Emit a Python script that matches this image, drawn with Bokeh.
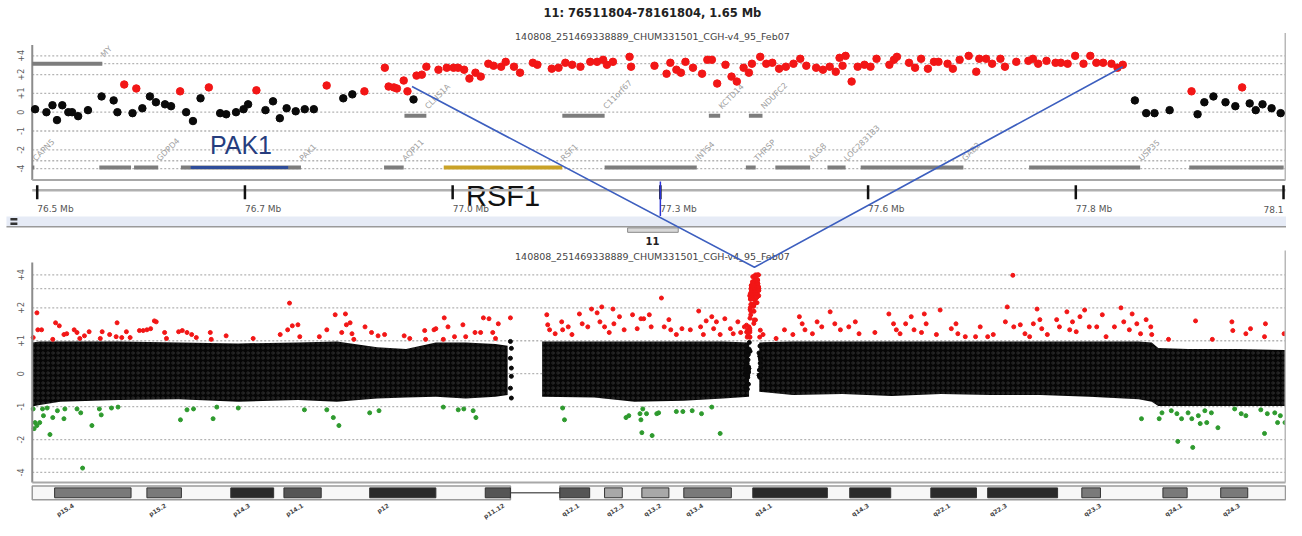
import math
from bokeh.plotting import figure
from bokeh.models import Range1d, ColumnDataSource
from bokeh.embed import file_html
from bokeh.resources import INLINE
from bokeh.core.properties import value

# ======================= DATA =======================
CHROM = "11"
REGION_START = 76511804 / 1e6
REGION_END = 78161804 / 1e6
CHR_LEN = 134.452384
ARRAY_NAME = "140808_251469338889_CHUM331501_CGH-v4_95_Feb07"

# probes inside the zoomed region (position Mb, log ratio)
zoom_pos = [76.509, 76.524, 76.532, 76.538, 76.545, 76.553, 76.558, 76.566, 76.579, 76.597,
            76.613, 76.618, 76.627, 76.638, 76.643, 76.651, 76.661, 76.669, 76.681, 76.689,
            76.701, 76.709, 76.718, 76.728, 76.739, 76.754, 76.762, 76.775, 76.785, 76.791,
            76.802, 76.814, 76.824, 76.833, 76.842, 76.854, 76.866, 76.878, 76.895, 76.917,
            76.929, 76.945, 76.972, 76.977, 76.984, 76.988, 76.997, 77.002, 77.010, 77.014,
            77.021, 77.027, 77.043, 77.054, 77.063, 77.069, 77.077, 77.084, 77.092, 77.099,
            77.109, 77.116, 77.126, 77.132, 77.143, 77.151, 77.168, 77.174, 77.193, 77.202,
            77.211, 77.220, 77.231, 77.244, 77.253, 77.261, 77.266, 77.274, 77.296, 77.298,
            77.329, 77.345, 77.350, 77.358, 77.364, 77.370, 77.380, 77.392, 77.399, 77.405,
            77.412, 77.423, 77.431, 77.438, 77.447, 77.454, 77.458, 77.469, 77.477, 77.485,
            77.494, 77.503, 77.513, 77.522, 77.530, 77.543, 77.552, 77.561, 77.569, 77.574,
            77.578, 77.582, 77.590, 77.598, 77.607, 77.615, 77.623, 77.640, 77.646, 77.650,
            77.666, 77.674, 77.682, 77.691, 77.699, 77.705, 77.717, 77.724, 77.733, 77.745,
            77.755, 77.759, 77.768, 77.776, 77.787, 77.793, 77.808, 77.824, 77.830, 77.837,
            77.848, 77.860, 77.867, 77.876, 77.886, 77.897, 77.906, 77.914, 77.923, 77.934,
            77.942, 77.949, 77.965, 77.980, 77.991, 78.011, 78.040, 78.048, 78.057, 78.069,
            78.085, 78.098, 78.107, 78.117, 78.125, 78.134, 78.146, 78.158]
zoom_lr = [0.16, 0.00, 0.37, -0.42, 0.37, 0.00, 0.00, -0.21, 0.11, 0.84,
           0.63, 0.00, 1.39, -0.05, 1.20, 0.21, 0.84, 0.53, 0.42, 0.32,
           1.08, 0.00, -0.47, 0.74, 1.25, -0.05, -0.11, 0.00, 0.16, 0.42,
           1.12, 0.11, 0.58, -0.32, 0.21, 0.05, 0.16, 0.16, 1.34, 0.74,
           0.95, 1.08, 2.58, 1.29, 1.25, 1.20, 1.61, 1.08, 0.68, 1.93,
           2.00, 2.68, 2.40, 2.58, 2.58, 2.58, 2.40, 1.73, 2.15, 1.86,
           2.99, 2.78, 2.68, 3.21, 2.68, 2.15, 3.10, 2.88, 2.49, 2.58,
           3.10, 2.88, 2.68, 3.21, 3.21, 3.46, 2.88, 3.21, 3.86, 2.68,
           2.78, 2.07, 3.10, 2.40, 2.15, 3.21, 2.58, 2.07, 3.46, 3.46,
           1.44, 2.88, 1.86, 1.55, 2.58, 2.15, 2.99, 3.86, 2.99, 3.10,
           2.49, 2.68, 2.99, 3.59, 2.78, 2.58, 2.40, 2.68, 2.23, 3.72,
           2.78, 4.00, 1.55, 2.68, 2.88, 2.68, 3.59, 2.88, 3.46, 3.86,
           3.10, 2.58, 3.59, 2.49, 3.21, 3.21, 2.99, 2.49, 3.46, 4.00,
           2.23, 3.59, 3.59, 2.99, 3.59, 2.68, 3.21, 3.33, 3.59, 2.99,
           3.33, 3.10, 3.10, 2.99, 4.00, 2.99, 4.00, 3.10, 3.10, 2.99,
           2.58, 2.88, 0.63, -0.05, -0.05, 0.11, 1.08, -0.11, 0.53, 0.84,
           0.53, 0.32, 1.25, 0.47, 0.11, 0.42, 0.21, -0.05]

# amplicon bounds (Mb) used for the zoom call-out
AMP_START, AMP_END = 77.008, 77.949

# whole chromosome: gained probes (> +1) and lost probes (< -1)
chr_red_pos = [0.1, 0.5, 0.6, 1.0, 2.2, 2.5, 2.9, 3.4, 3.7, 4.5, 4.8, 5.1, 5.6, 6.1, 7.3, 7.5, 8.3, 9.0,
               9.1, 9.6, 10.1, 10.5, 11.5, 11.9, 12.3, 12.7, 13.1, 13.3, 14.2, 14.4, 15.7, 16.1, 16.6,
               17.1, 17.6, 19.1, 19.2, 20.8, 23.7, 26.6, 27.4, 27.6, 27.9, 28.5, 28.7, 30.8, 31.6, 32.5,
               33.2, 33.6, 33.7, 34.1, 34.3, 34.5, 35.7, 36.4, 37.1, 37.8, 39.9, 40.5, 42.1, 42.2, 43.1,
               43.3, 44.1, 44.2, 44.6, 45.3, 46.2, 46.5, 47.5, 48.1, 48.4, 49.0, 49.4, 49.7, 50.0, 51.3,
               55.2, 55.3, 55.5, 56.1, 56.8, 56.9, 57.5, 57.9, 58.7, 59.0, 59.6, 60.0, 60.6, 60.9, 61.1,
               61.4, 61.9, 62.3, 62.4, 63.0, 63.5, 64.4, 64.9, 65.3, 65.6, 66.2, 66.4, 67.5, 67.8, 68.3,
               68.5, 69.1, 69.7, 70.6, 71.5, 71.7, 72.0, 72.3, 72.9, 73.1, 73.4, 73.8, 74.3, 74.9, 75.2,
               75.7, 76.0, 76.4,
               78.4, 79.8, 80.7, 81.6, 82.3, 82.6, 82.9, 83.7, 84.2, 84.7, 85.6, 86.1, 86.7, 87.6, 88.3,
               88.7, 90.4, 91.9, 92.4, 92.7, 93.1, 93.7, 94.3, 94.6, 95.4, 95.7, 95.9, 97.0, 97.4, 98.6,
               99.1, 99.3, 100.1, 101.2, 101.7, 102.5, 103.1, 104.4, 104.6, 105.2, 105.3, 106.0, 106.5,
               107.0, 107.4, 107.8, 108.1, 108.3, 108.9, 109.9, 110.2, 111.0, 111.3, 111.6, 112.0, 112.4,
               112.9, 113.4, 114.2, 114.8, 115.2, 116.1, 116.8, 117.1, 117.7, 118.0, 118.5, 118.9, 119.5,
               120.0, 120.1, 121.9, 124.8, 126.6, 128.7, 128.8, 130.2, 130.7, 132.2, 132.3, 134.3]
chr_red_lr = [1.07, 1.80, 1.26, 1.26, 1.03, 1.46, 1.37, 1.14, 1.16, 1.26, 1.19, 1.05, 1.11, 1.21, 1.05, 1.21,
              1.14, 1.09, 1.46, 1.07, 1.21, 1.07, 1.24, 1.24, 1.26, 1.29, 1.52, 1.49, 1.19, 1.05, 1.21, 1.24,
              1.19, 1.14, 1.07, 1.19, 1.03, 1.11, 1.05, 1.14, 1.26, 2.21, 1.37, 1.40, 1.09, 1.09, 1.26, 1.73,
              1.19, 1.76, 1.40, 1.46, 1.16, 1.03, 1.34, 1.19, 1.11, 1.14, 1.11, 1.05, 1.24, 1.03, 1.26, 1.29,
              1.03, 1.62, 1.34, 1.09, 1.40, 1.09, 1.19, 1.19, 1.62, 1.59, 1.19, 1.05, 1.43, 1.62,
              1.73, 1.40, 1.26, 1.16, 1.49, 1.26, 1.34, 1.14, 1.76, 1.43, 1.34, 1.95, 1.80, 1.49, 2.04, 1.34,
              1.19, 1.95, 1.43, 1.66, 1.26, 1.73, 1.29, 1.59, 1.59, 1.73, 1.34, 2.46, 1.34, 1.56, 1.26, 1.14,
              1.29, 1.26, 1.87, 1.34, 1.14, 1.52, 1.66, 1.29, 1.49, 1.14, 1.59, 1.29, 1.16, 1.49, 1.19, 1.34,
              1.14, 1.05, 1.26, 1.14, 1.66, 1.43, 1.26, 1.16, 1.49, 1.34, 1.84, 1.43, 1.26, 1.34, 1.49, 1.16,
              1.19, 1.76, 1.43, 1.26, 1.16, 1.43, 1.66, 1.26, 1.19, 1.76, 1.43, 1.14, 1.91, 1.29, 1.43, 1.16,
              1.09, 1.09, 1.34, 1.09, 1.14, 1.49, 2.04, 3.97, 1.34, 1.40, 1.16, 1.09, 1.43, 1.95, 1.56, 1.29,
              1.14, 1.56, 1.34, 1.84, 1.26, 1.49, 1.21, 1.66, 1.91, 1.34, 1.34, 1.73, 1.09, 1.34, 2.00, 1.49,
              1.26, 1.76, 1.43, 1.16, 1.56, 1.34, 1.14, 1.03, 1.52, 1.03, 1.49, 1.24, 1.16, 1.29, 1.09, 1.43,
              1.16]
chr_green_pos = [0.1, 0.2, 0.3, 0.5, 0.8, 1.1, 1.2, 1.6, 1.9, 2.2, 2.7, 3.4, 3.5, 4.8, 5.2, 5.4, 6.4, 7.2,
                 7.4, 8.5, 9.2, 15.9, 16.6, 17.3, 19.4, 19.8, 22.1, 29.2, 31.6, 32.3, 32.9, 36.2, 37.2,
                 44.1, 45.7, 46.3, 47.3, 47.6, 56.9, 57.1, 63.7, 64.0, 65.2, 65.3, 65.4, 65.5, 65.9, 66.5,
                 67.0, 67.2, 69.1, 69.8, 70.8, 71.8, 72.9, 73.8, 119.0, 120.9, 121.2, 122.2, 122.8, 122.9,
                 123.3, 124.0, 124.4, 124.5, 125.1, 125.3, 125.8, 126.0, 126.5, 127.2, 129.0, 129.7, 130.2,
                 131.8, 132.2, 132.5, 133.3, 133.6, 133.9, 134.4]
chr_green_lr = [-1.05, -1.59, -1.40, -1.49, -1.40, -1.05, -1.21, -1.03, -1.80, -1.26, -1.09, -1.29, -1.05,
                -1.05, -1.14, -3.65, -1.49, -1.05, -1.19, -1.03, -1.01, -1.32, -1.07, -1.05, -1.29, -1.01,
                -1.03, -1.07, -1.07, -1.26, -1.49, -1.14, -1.09, -1.01, -1.07, -1.05, -1.09, -1.26, -1.03,
                -1.32, -1.26, -1.21, -1.16, -1.32, -1.73, -1.05, -1.16, -1.84, -1.16, -1.14, -1.11, -1.11,
                -1.09, -1.16, -1.01, -1.76, -1.29, -1.29, -1.14, -1.09, -1.16, -2.08, -1.29, -1.14, -1.29,
                -2.36, -1.21, -1.43, -1.09, -1.40, -1.14, -1.56, -1.05, -1.16, -1.21, -1.07, -1.76, -1.16,
                -1.14, -1.40, -1.21, -1.40]
# isolated pericentromeric probes
chr_black_pos = [51.3, 51.4, 51.3, 51.4, 51.4, 51.3, 51.4]
chr_black_lr = [0.98, 0.77, 0.47, 0.17, -0.08, -0.44, -0.74]

# envelope of the dense unchanged-probe cloud (segment id, Mb, upper, lower log ratio)
cloud_seg = [0] * 14 + [1] * 6 + [2] * 14
cloud_pos = [0.0, 0.8, 3.0, 9.3, 15.7, 22.1, 28.5, 32.7, 37.0, 40.1, 43.3, 46.5, 49.7, 51.0,
             54.7, 60.3, 64.6, 69.9, 74.1, 76.9,
             78.0, 81.6, 86.9, 92.2, 97.5, 102.8, 108.1, 113.4, 118.7, 120.1, 120.8, 124.0, 129.3, 134.4]
cloud_hi = [0.95, 0.98, 0.98, 0.98, 0.95, 0.92, 0.95, 0.98, 0.80, 0.75, 0.95, 0.95, 0.90, 0.85,
            0.98, 0.98, 0.98, 0.98, 0.98, 0.95,
            0.95, 0.98, 0.98, 0.98, 0.98, 0.98, 0.98, 0.98, 0.98, 0.95, 0.78, 0.75, 0.75, 0.72]
cloud_lo = [-1.0, -0.95, -0.85, -0.80, -0.78, -0.85, -0.80, -0.85, -0.75, -0.72, -0.70, -0.75, -0.70, -0.65,
            -0.70, -0.72, -0.85, -0.82, -0.75, -0.70,
            -0.55, -0.65, -0.62, -0.68, -0.62, -0.65, -0.65, -0.70, -0.78, -0.85, -0.98, -0.98, -0.98, -0.98]

# genes in the zoomed region
gene_name = ["MYO7A", "CAPN5", "OMP", "GDPD4", "PAK1", "AQP11", "CLNS1A", "RSF1", "C11orf67", "INTS4",
             "KCTD14", "THRSP", "NDUFC2", "ALG8", "LOC283183", "GAB2", "USP35", "KCTD21"]
gene_label = ["MY", "CAPN5", "", "GDPD4", "PAK1", "AQP11", "CLNS1A", "RSF1", "C11orf67", "INTS4",
              "KCTD14", "THRSP", "NDUFC2", "ALG8", "LOC283183", "GAB2", "USP35", ""]
gene_start = [76.505, 76.505, 76.594, 76.640, 76.702, 76.971, 76.998, 77.050, 77.207, 77.263,
              77.401, 77.450, 77.454, 77.489, 77.558, 77.602, 77.825, 78.037]
gene_end = [76.598, 76.508, 76.636, 76.672, 76.861, 76.997, 77.027, 77.207, 77.263, 77.385,
            77.416, 77.463, 77.472, 77.535, 77.582, 77.738, 77.972, 78.162]
gene_row = [0, 2, 2, 2, 2, 2, 1, 2, 1, 2, 1, 2, 1, 2, 2, 2, 2, 2]
PAK1_EXONS = (76.715, 76.844)
callout_genes = ["PAK1", "RSF1"]

# chromosome 11 ideogram (stained bands)
band_name = ["p15.4", "p15.2", "p14.3", "p14.1", "p12", "p11.12", "q12.1", "q12.3", "q13.2", "q13.4",
             "q14.1", "q14.3", "q22.1", "q22.3", "q23.3", "q24.1", "q24.3"]
band_start = [2.4, 12.3, 21.3, 27.0, 36.2, 48.6, 56.6, 61.4, 65.4, 69.9, 77.3, 87.7, 96.4, 102.5,
              112.6, 121.3, 127.5]
band_end = [10.6, 16.0, 25.9, 31.0, 43.3, 51.3, 59.8, 63.3, 68.3, 75.0, 85.3, 92.1, 101.3, 110.0,
            114.6, 123.9, 130.4]
band_stain = ["gpos50", "gpos50", "gpos100", "gpos75", "gpos100", "gpos75", "gpos75", "gpos25", "gpos25",
              "gpos50", "gpos100", "gpos100", "gpos100", "gpos100", "gpos50", "gpos50", "gpos50"]
CEN_START, CEN_END = 51.3, 56.6

y_ticks = [4, 2, 1, 0, -1, -2, -4]
y_tick_labels = ["+4", "+2", "+1", "0", "-1", "-2", "-4"]
y_grid = [4, 3, 2, 1, 0, -1, -2, -3, -4]
ruler_labels = ["76.5 Mb", "76.7 Mb", "77.0 Mb", "77.3 Mb", "77.6 Mb", "77.8 Mb", "78.1"]

# ======================= STYLE / LAYOUT =======================
W, H = 1286, 520                  # canvas size in screen pixels
FL, FR, FT, FB = 0, 1296, 0, 526  # layout units spanned by the canvas
RED, GREEN, BLACK = "#f21616", "#2e9a2e", "#0a0a0a"
GRID = "#b4b4b4"
AXIS = "#8c8c8c"
STAIN = {"gpos25": "#a8a8a8", "gpos50": "#7a7a7a", "gpos75": "#555555", "gpos100": "#2a2a2a"}
FONT = value("DejaVu Sans")
SANS = value("Liberation Sans")

TOP_L, TOP_R, TOP_T, TOP_B = 32, 1295, 45, 181.5
TOP_X = (REGION_START, 37, REGION_END, 1293)
TOP_Y = (0.0, 113.0, 3.0, 56.0)
ROW_Y = [64, 116.5, 169]
BOT_L, BOT_R, BOT_T, BOT_B = 32, 1295, 265, 487.5
CHR_X = (0.0, 32, CHR_LEN, 1295)
CHR_Y = (0.0, 377.5, 3.0, 277.6)
IDEO_T, IDEO_B = 491, 505


def compress(v):
    a = abs(v)
    return v if a <= 1 else math.copysign(math.log2(a) + 1.0, v)


def probe_color(v):
    return RED if v > 1.0 else (GREEN if v < -1.0 else BLACK)


def xrange_for(d0, p0, d1, p1):
    k = (d1 - d0) / (p1 - p0)
    return Range1d(start=d0 + (FL - p0) * k, end=d0 + (FR - p0) * k)


def yrange_for(d0, p0, d1, p1):
    k = (d1 - d0) / (p1 - p0)
    return Range1d(start=d0 + (FB - p0) * k, end=d0 + (FT - p0) * k)


def to_px(d, m):
    d0, p0, d1, p1 = m
    return p0 + (d - d0) * (p1 - p0) / (d1 - d0)


p = figure(width=W, height=H, output_backend="svg", toolbar_location=None, tools="",
           x_range=Range1d(FL, FR), y_range=Range1d(FB, FT),
           x_axis_location=None, y_axis_location=None, min_border=0)
p.outline_line_color = None
p.grid.visible = False
p.background_fill_color = "white"
p.border_fill_color = "white"
p.extra_x_ranges = {"zx": xrange_for(*TOP_X), "cx": xrange_for(*CHR_X)}
p.extra_y_ranges = {"zy": yrange_for(*TOP_Y), "cy": yrange_for(*CHR_Y)}


def text(x, y, s, size, color="#444444", align="center", baseline="middle", angle=0.0,
         font=FONT, style="normal", xr="default", yr="default"):
    p.text(x=x, y=y, text=s, text_font=font, text_font_size=size, text_color=color,
           text_align=align, text_baseline=baseline, angle=angle, text_font_style=style,
           x_range_name=xr, y_range_name=yr)


# ---------- titles ----------
text([657], [13], [f"{CHROM}: {round(REGION_START*1e6)}-{round(REGION_END*1e6)}, "
                   f"{REGION_END-REGION_START:.2f} Mb"], "11.5px", "#222222", style="bold")
text([657], [36], [ARRAY_NAME], "9.5px", "#444444")

# ---------- top panel ----------
p.segment(x0=[TOP_L] * len(y_grid), x1=[TOP_R] * len(y_grid), y0=[compress(g) for g in y_grid],
          y1=[compress(g) for g in y_grid], y_range_name="zy", line_color=GRID, line_width=1.3,
          line_dash="2 2")
p.segment(x0=[TOP_L, TOP_L, TOP_R], x1=[TOP_L, TOP_R, TOP_R], y0=[TOP_T, TOP_B, 33],
          y1=[TOP_B, TOP_B, TOP_B], line_color=[AXIS, "#a8a8a8", "#b8b8b8"], line_width=2)
text([24] * len(y_ticks), [compress(t) for t in y_ticks], y_tick_labels, "8px", "#5a5a5a",
     align="center", baseline="bottom", angle=math.pi / 2, yr="zy")

# genes
gy = [ROW_Y[r] for r in gene_row]
gcol = ["#c9a227" if n == "RSF1" else "#7d7d7d" for n in gene_name]
p.segment(x0=gene_start, x1=gene_end, y0=gy, y1=gy, x_range_name="zx", line_color=gcol,
          line_width=4, line_cap="butt")
p.segment(x0=[PAK1_EXONS[0]], x1=[PAK1_EXONS[1]], y0=[ROW_Y[2]], y1=[ROW_Y[2]], x_range_name="zx",
          line_color="#2f4d9a", line_width=3, line_cap="butt")
text(gene_end, [y - 8 for y in gy], gene_label, "8px", "#a0a0a0", align="left",
     baseline="alphabetic", angle=math.pi / 4, xr="zx")

# probes
zsrc = ColumnDataSource(dict(x=zoom_pos, y=[compress(v) for v in zoom_lr],
                             c=[probe_color(v) for v in zoom_lr]))
p.scatter("x", "y", source=zsrc, size=7.5, fill_color="c", line_color="c", x_range_name="zx",
          y_range_name="zy")

# call-out gene names
for g in callout_genes:
    i = gene_name.index(g)
    mid = (gene_start[i] + gene_end[i]) / 2
    if g == "PAK1":
        text([mid], [146], [g], "25px", "#263d7e", font=SANS, xr="zx")
    else:
        text([mid], [198], [g], "29px", "#111111", font=SANS, xr="zx")

# ---------- ruler ----------
n = len(ruler_labels)
tick_pos = [REGION_START + i * (REGION_END - REGION_START) / (n - 1) for i in range(n)]
p.segment(x0=[TOP_L], x1=[TOP_R], y0=[192], y1=[192], line_color="#b0b0b0", line_width=2.5)
p.segment(x0=tick_pos, x1=tick_pos, y0=[187] * n, y1=[201] * n, x_range_name="zx",
          line_color="#111111", line_width=2.5)
text(tick_pos[:-1], [211] * (n - 1), ruler_labels[:-1], "9px", "#555555", align="left",
     xr="zx")
text([tick_pos[-1]], [211], [ruler_labels[-1]], "9px", "#555555", align="right", xr="zx")
cursor = tick_pos[n // 2]
p.segment(x0=[cursor], x1=[cursor], y0=[183], y1=[218], x_range_name="zx",
          line_color="#2b33d6", line_width=1.5)

# scroll band and chromosome thumb
p.quad(left=[6], right=[FR], top=[218.5], bottom=[228], fill_color="#e6ebf6", line_color=None)
p.segment(x0=[6], x1=[FR], y0=[228.8], y1=[228.8], line_color="#9a9a9a", line_width=1.5)
p.quad(left=[10, 10], right=[17, 17], top=[220, 224.5], bottom=[222.5, 227],
       fill_color="#333333", line_color=None)
p.quad(left=[632], right=[683], top=[230], bottom=[234.5], fill_color="#d8d8d8",
       line_color="#8a8a8a", line_width=1)
text([657], [243], [CHROM], "10px", "#222222", style="bold")
text([657], [259], [ARRAY_NAME], "9.5px", "#444444")

# ---------- bottom panel ----------
p.segment(x0=[BOT_L] * len(y_grid), x1=[BOT_R] * len(y_grid), y0=[compress(g) for g in y_grid],
          y1=[compress(g) for g in y_grid], y_range_name="cy", line_color=GRID, line_width=1.3,
          line_dash="2 2")
for s in sorted(set(cloud_seg)):
    idx = [i for i, v in enumerate(cloud_seg) if v == s]
    p.varea(x=[cloud_pos[i] for i in idx], y1=[cloud_lo[i] for i in idx],
            y2=[cloud_hi[i] for i in idx], x_range_name="cx", y_range_name="cy",
            fill_color="#060606", hatch_pattern="ring", hatch_color="white", hatch_alpha=0.13,
            hatch_scale=5, hatch_weight=1)

all_pos = chr_black_pos + chr_red_pos + chr_green_pos + zoom_pos
all_lr = chr_black_lr + chr_red_lr + chr_green_lr + zoom_lr
csrc = ColumnDataSource(dict(x=all_pos, y=[compress(v) for v in all_lr],
                             c=[probe_color(v) for v in all_lr]))
p.scatter("x", "y", source=csrc, size=4, fill_color="c", line_color="c", x_range_name="cx",
          y_range_name="cy")

p.segment(x0=[BOT_L, BOT_L, BOT_R], x1=[BOT_L, BOT_R, BOT_R], y0=[BOT_T, BOT_B, 253],
          y1=[BOT_B, BOT_B, BOT_B], line_color=[AXIS, "#a8a8a8", "#b8b8b8"], line_width=2)
text([24] * len(y_ticks), [compress(t) for t in y_ticks], y_tick_labels, "8px", "#5a5a5a",
     align="center", baseline="bottom", angle=math.pi / 2, yr="cy")

# ideogram
p.quad(left=[0, CEN_END], right=[CEN_START, CHR_LEN], top=[IDEO_T] * 2, bottom=[IDEO_B] * 2,
       x_range_name="cx", fill_color="#f7f7f7", line_color="#9a9a9a", line_width=1.5)
p.segment(x0=[CEN_START], x1=[CEN_END], y0=[(IDEO_T + IDEO_B) / 2], y1=[(IDEO_T + IDEO_B) / 2],
          x_range_name="cx", line_color="#666666", line_width=1.5)
p.quad(left=band_start, right=band_end, top=[IDEO_T + 2] * len(band_start),
       bottom=[IDEO_B - 2] * len(band_start), x_range_name="cx",
       fill_color=[STAIN[s] for s in band_stain], line_color="#333333", line_width=1)
text([b + 1.8 for b in band_start], [507] * len(band_start), band_name, "6px", "#444444",
     align="right", baseline="top", angle=0.55, style="bold", xr="cx")

# ---------- zoom call-out lines ----------
x_left = to_px(AMP_START, TOP_X)
x_right = to_px(AMP_END, TOP_X)
i_r = min(range(len(zoom_pos)), key=lambda i: abs(zoom_pos[i] - AMP_END))
y_left = to_px(compress(1.29), TOP_Y)
y_right = to_px(compress(zoom_lr[i_r] - 0.2), TOP_Y)
apex_x = to_px((AMP_START + AMP_END) / 2, CHR_X)
apex_y = to_px(compress(4.7), CHR_Y)
p.line(x=[x_left, apex_x, x_right], y=[y_left, apex_y, y_right], line_color="#3d5fbf",
       line_width=1.6)

open("out.html", "w").write(file_html(p, INLINE))
